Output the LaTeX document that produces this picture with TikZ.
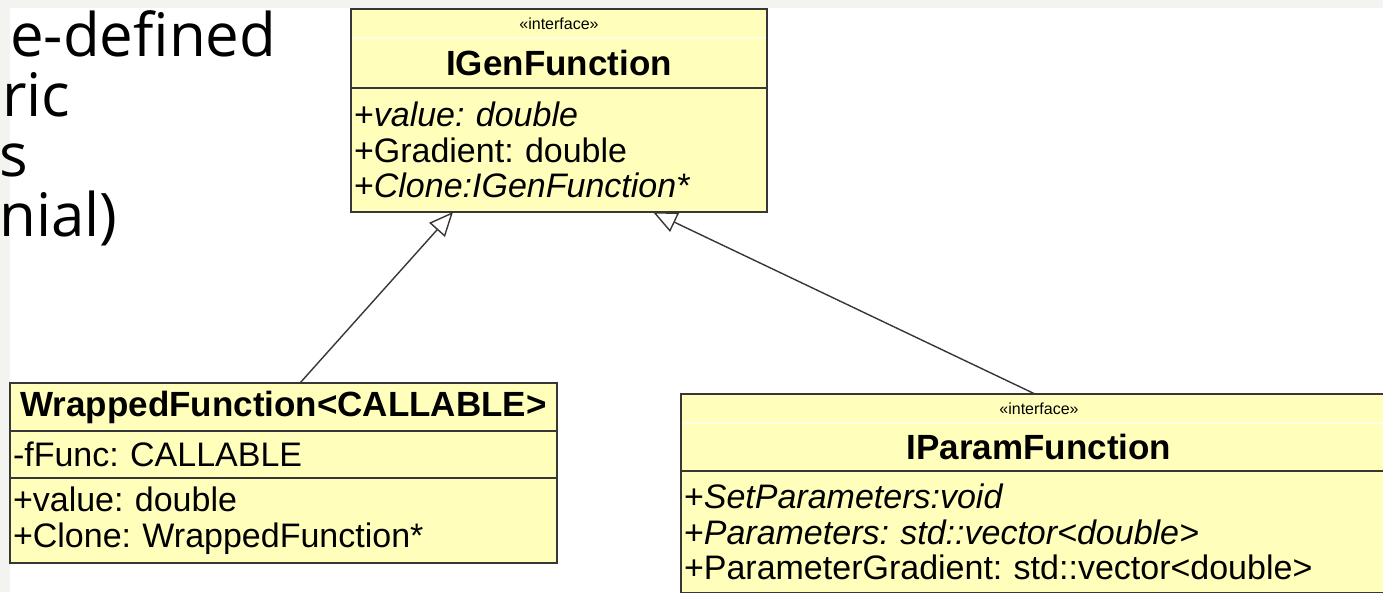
\documentclass[tikz,border=0pt]{standalone}
\usepackage{fontspec}
\setmainfont{Liberation Sans}
\newfontfamily\slidefont{Open Sans}
\usetikzlibrary{positioning,calc,arrows.meta}
\frenchspacing

\definecolor{umlfill}{RGB}{255,255,187}
\definecolor{umlline}{RGB}{55,55,55}
\definecolor{faintline}{RGB}{255,255,228}
\definecolor{slidegray}{RGB}{243,243,239}

\tikzset{
  compart/.style={fill=umlfill, inner xsep=3pt, inner ysep=0pt, outer sep=0pt,
    align=left, anchor=north west, font=\fontsize{34}{35.5}\selectfont},
  stereo/.style={compart, align=center, font=\fontsize{16}{18}\selectfont},
  classname/.style={compart, align=center, font=\fontsize{35}{38}\selectfont\bfseries},
  umlborder/.style={draw=umlline, line width=1.5pt},
  faint/.style={draw=faintline, line width=1.2pt},
  generalize/.style={draw=umlline, line width=1.4pt,
    -{Triangle[open, length=24pt, width=21pt, fill=white]}},
  slidetext/.style={anchor=base west, inner sep=0pt,
    font=\slidefont\fontsize{60}{66}\selectfont}
}

\begin{document}
\begin{tikzpicture}[x=1pt, y=-1pt]
  \useasboundingbox (0,0) rectangle (1383,592);
  \clip (0,0) rectangle (1383,592);
  % slide background
  \fill[white] (0,0) rectangle (1383,592);
  \fill[slidegray] (0,0) rectangle (1383,8);
  \fill[slidegray] (0,0) rectangle (10,592);

  % text left over from the slide
  \node[slidetext] (line1) at (10,56) {e-defined};
  \node[slidetext] (line2) at (2,116) {ric};
  \node[slidetext] (line3) at (-1,176) {s};
  \node[slidetext] (line4) at (-1,236) {nial)};

  % IGenFunction
  \node[stereo, text width=410pt, minimum height=29pt] (igen-st) at (351,9) {«interface»};
  \node[classname, text width=410pt, minimum height=50pt, below=0pt of igen-st] (igen-name) {IGenFunction};
  \node[compart, text width=410pt, minimum height=124pt, below=0pt of igen-name] (igen-ops)
    {+\textit{value: double}\\+Gradient: double\\+\textit{Clone:IGenFunction*}};
  \draw[umlborder] (igen-st.north west) rectangle (igen-ops.south east);
  \draw[umlborder] (igen-name.south west) -- (igen-name.south east);
  \draw[faint] ($(igen-st.south west)+(1,0)$) -- ($(igen-st.south east)+(-1,0)$);

  % WrappedFunction<CALLABLE>
  \node[classname, text width=541pt, minimum height=48pt] (wrap-name) at (10,383) {WrappedFunction<CALLABLE>};
  \node[compart, text width=541pt, minimum height=47pt, below=0pt of wrap-name] (wrap-attr) {-fFunc: CALLABLE};
  \node[compart, text width=541pt, minimum height=85pt, below=0pt of wrap-attr] (wrap-ops)
    {+value: double\\+Clone: WrappedFunction*};
  \draw[umlborder] (wrap-name.north west) rectangle (wrap-ops.south east);
  \draw[umlborder] (wrap-name.south west) -- (wrap-name.south east);
  \draw[umlborder] (wrap-attr.south west) -- (wrap-attr.south east);

  % IParamFunction
  \node[stereo, text width=710pt, minimum height=29pt] (ipar-st) at (681,394) {«interface»};
  \node[classname, text width=710pt, minimum height=48pt, below=0pt of ipar-st] (ipar-name) {IParamFunction};
  \node[compart, text width=710pt, minimum height=122pt, below=0pt of ipar-name] (ipar-ops)
    {+\textit{SetParameters:void}\\+\textit{Parameters: std::vector<double>}\\+ParameterGradient: std::vector<double>};
  \draw[umlborder] (ipar-st.north west) rectangle (ipar-ops.south east);
  \draw[umlborder] (ipar-name.south west) -- (ipar-name.south east);
  \draw[faint] ($(ipar-st.south west)+(1,0)$) -- ($(ipar-st.south east)+(-1,0)$);

  % generalizations
  \draw[generalize] ($(wrap-name.north west)+(290,0)$) -- ($(igen-ops.south west)+(102,0)$);
  \draw[generalize] ($(ipar-st.north west)+(354,0)$) -- ($(igen-ops.south west)+(302,0)$);
\end{tikzpicture}
\end{document}
